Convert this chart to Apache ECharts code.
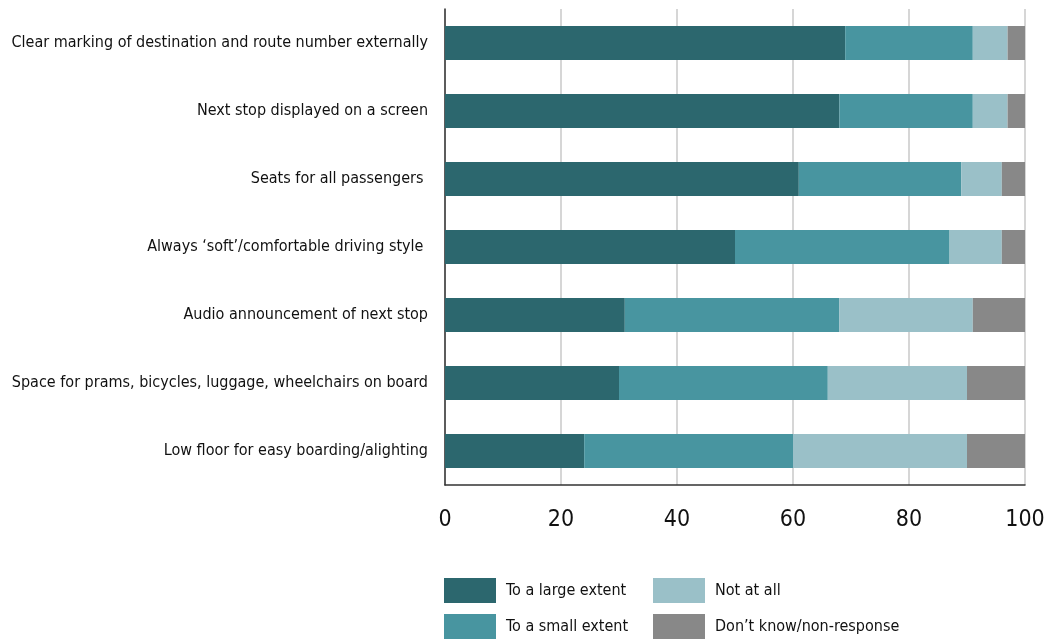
<!DOCTYPE html>
<html>
<head>
<meta charset="utf-8">
<script src="https://cdn.jsdelivr.net/npm/echarts@6/dist/echarts.min.js"></script>
<style>
  html, body { margin: 0; padding: 0; background: #ffffff; }
  #chart { width: 1048px; height: 641px; }
</style>
</head>
<body>
<div id="chart"></div>
<script>
// Bus features: share of respondents (%) by how much each feature matters
const categories = [
  'Clear marking of destination and route number externally',
  'Next stop displayed on a screen',
  'Seats for all passengers ',
  "Always \u2018soft\u2019/comfortable driving style ",
  'Audio announcement of next stop',
  'Space for prams, bicycles, luggage, wheelchairs on board',
  'Low floor for easy boarding/alighting'
];
const seriesNames = ['To a large extent', 'To a small extent', 'Not at all', 'Don\u2019t know/non-response'];
const largeExtent = [69, 68, 61, 50, 31, 30, 24];
const smallExtent = [22, 23, 28, 37, 37, 36, 36];
const notAtAll    = [6, 6, 7, 9, 23, 24, 30];
const dontKnow    = [3, 3, 4, 4, 9, 10, 10];
const xTicks = [0, 20, 40, 60, 80, 100];

const colors = ['#2c676e', '#4895a0', '#9ac0c8', '#888888'];
const FONT = '"Liberation Sans Narrow", "DejaVu Sans Condensed", "Liberation Sans", sans-serif';

const chart = echarts.init(document.getElementById('chart'), null, { renderer: 'canvas' });

const values = [largeExtent, smallExtent, notAtAll, dontKnow];
const series = values.map((data, i) => ({
  name: seriesNames[i],
  type: 'bar',
  stack: 'total',
  barWidth: '50%',
  itemStyle: { color: colors[i] },
  emphasis: { disabled: true },
  data: data
}));

// Legend laid out as a 2x2 block: one legend component per entry
const legendSpots = [
  { left: 444, top: 578 },
  { left: 444, top: 614 },
  { left: 653, top: 578 },
  { left: 653, top: 614 }
];
const legends = seriesNames.map((name, i) => ({
  data: [name],
  left: legendSpots[i].left,
  top: legendSpots[i].top,
  padding: 0,
  itemWidth: 52,
  itemHeight: 25,
  itemGap: 10,
  icon: 'rect',
  selectedMode: false,
  textStyle: { fontFamily: FONT, fontSize: 16, color: '#111111', padding: [0, 0, 0, 5] }
}));

chart.setOption({
  animation: false,
  color: colors,
  grid: { left: 445, right: 23, top: 9, bottom: 156, containLabel: false, outerBoundsMode: 'none' },
  legend: legends,
  xAxis: {
    type: 'value',
    min: xTicks[0],
    max: xTicks[xTicks.length - 1],
    interval: xTicks[1] - xTicks[0],
    axisLine: { show: true, lineStyle: { color: '#333333', width: 1.5 } },
    axisTick: { show: false },
    axisLabel: {
      margin: 24,
      fontFamily: FONT,
      fontSize: 23,
      color: '#111111'
    },
    splitLine: { show: true, lineStyle: { color: '#c8c8c8', width: 1.5 } }
  },
  yAxis: {
    type: 'category',
    inverse: true,
    data: categories,
    axisLine: { show: true, lineStyle: { color: '#333333', width: 1.5 } },
    axisTick: { show: false },
    axisLabel: {
      margin: 17,
      fontFamily: FONT,
      fontSize: 16,
      color: '#111111'
    }
  },
  series: series
});
</script>
</body>
</html>
